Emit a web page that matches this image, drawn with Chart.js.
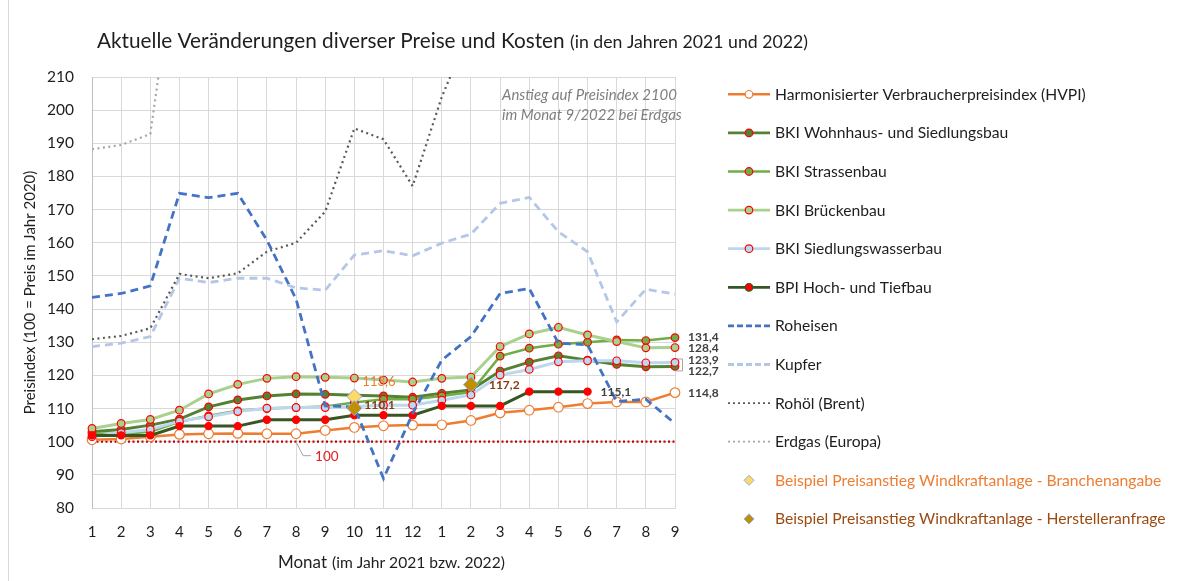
<!DOCTYPE html>
<html><head><meta charset="utf-8">
<script src="https://cdn.jsdelivr.net/npm/chart.js@4/dist/chart.umd.min.js"></script>
<style>
html,body{margin:0;padding:0;background:#fff;}
canvas{display:block;}
</style></head><body>
<canvas id="c" width="1178" height="581"></canvas>
<script>
// ---------- data ----------
const monthLabels = ['1','2','3','4','5','6','7','8','9','10','11','12','1','2','3','4','5','6','7','8','9'];
const yTicks = [80, 210, 10]; // min, max, step
const hvpi        = [100.6,100.8,101.5,102.2,102.4,102.5,102.4,102.4,103.4,104.3,104.8,105.0,105.1,106.4,108.7,109.5,110.4,111.5,112.0,112.0,114.8];
const wohnhaus    = [103.0,103.7,105.0,106.8,110.5,112.6,113.8,114.4,114.3,114.0,113.8,113.4,114.6,115.6,121.3,124.0,125.9,124.6,123.3,122.6,122.7];
const strassenbau = [102.5,102.3,103.0,106.0,107.8,109.3,110.0,110.3,110.6,111.8,112.8,112.8,113.8,115.0,125.8,128.2,129.4,130.0,130.7,130.5,131.4];
const brueckenbau = [104.0,105.5,106.7,109.5,114.4,117.3,119.1,119.6,119.4,119.2,118.6,118.0,119.1,119.5,128.7,132.5,134.5,132.2,130.2,128.3,128.4];
const siedlungswasserbau = [101.5,102.7,103.7,106.2,107.5,109.1,110.1,110.3,110.3,110.6,111.0,111.0,112.5,114.1,120.1,121.8,124.1,124.4,124.4,123.8,123.9];
const bpi         = [101.9,101.9,101.9,104.7,104.7,104.7,106.6,106.6,106.6,108.0,108.0,108.0,110.8,110.8,110.8,115.1,115.1,115.1,null,null,null];
const roheisen    = [143.5,144.7,147.0,174.9,173.6,174.9,160.8,143.0,110.8,110.5,88.9,108.5,124.6,131.7,144.7,146.2,129.7,129.2,112.1,112.8,105.5];
const kupfer      = [128.7,129.7,131.7,149.3,148.0,149.3,149.3,146.4,145.7,156.3,157.6,156.1,159.9,162.6,171.9,173.7,163.3,157.3,136.1,146.0,144.5];
const rohoel      = [130.9,131.9,134.2,150.6,149.3,150.8,157.3,160.0,169.4,194.5,191.2,177.1,204.0,225,270,250,265,280,250,235,215];
const erdgas      = [188.2,189.5,192.8,255,270,300,380,450,700,1000,900,1200,900,850,1500,1100,1000,1100,1600,2500,2100];
const basis100    = [100,100,100,100,100,100,100,100,100,100,100,100,100,100,100,100,100,100,100,100,100];
const branchenangabe    = [null,null,null,null,null,null,null,null,null,113.6,null,null,null,null,null,null,null,null,null,null,null];
const herstelleranfrage = [null,null,null,null,null,null,null,null,null,110.1,null,null,null,117.2,null,null,null,null,null,null,null];

const seriesNames = ['Harmonisierter Verbraucherpreisindex (HVPI)','BKI Wohnhaus- und Siedlungsbau','BKI Strassenbau','BKI Brückenbau','BKI Siedlungswasserbau','BPI Hoch- und Tiefbau','Roheisen','Kupfer','Rohöl (Brent)','Erdgas (Europa)','Beispiel Preisanstieg Windkraftanlage - Branchenangabe','Beispiel Preisanstieg Windkraftanlage - Herstelleranfrage'];

const FONT = 'Lato';
const TXT = '#1e1e1e';

function lineDs(label, data, color, width, extra) {
  return Object.assign({label, data, borderColor: color, backgroundColor: color, borderWidth: width,
    pointRadius: 0, tension: 0, spanGaps: false}, extra || {});
}
function markDs(label, data, color, width, fill, border, r) {
  return lineDs(label, data, color, width, {pointRadius: r, pointBackgroundColor: fill, pointBorderColor: border, pointBorderWidth: 1.2, pointStyle: 'circle'});
}

const datasets = [
  markDs(seriesNames[0], hvpi, '#ED7D31', 2.5, '#FFFFFF', '#ED7D31', 4.8),
  markDs(seriesNames[1], wohnhaus, '#548235', 3, '#548235', '#FF0000', 3.8),
  markDs(seriesNames[2], strassenbau, '#70AD47', 2.5, '#70AD47', '#FF0000', 3.8),
  markDs(seriesNames[3], brueckenbau, '#A9D18E', 3, '#A9D18E', '#FF0000', 3.8),
  markDs(seriesNames[4], siedlungswasserbau, '#BDD7EE', 3, '#BDD7EE', '#FF0000', 3.8),
  markDs(seriesNames[5], bpi, '#375623', 3, '#FF0000', '#FF0000', 3.6),
  lineDs(seriesNames[6], roheisen, '#4472C4', 2.8, {borderDash: [8, 5]}),
  lineDs(seriesNames[7], kupfer, '#B4C7E7', 2.8, {borderDash: [8, 5]}),
  lineDs(seriesNames[8], rohoel, '#595959', 2.2, {borderDash: [2, 3.5]}),
  lineDs(seriesNames[9], erdgas, '#A6A6A6', 2.2, {borderDash: [2, 3.5]}),
  lineDs('100', basis100, '#C00000', 2.2, {borderDash: [2, 2.5]}),
  {label: seriesNames[10], data: branchenangabe, showLine: false, pointStyle: 'rectRot', pointRadius: 7.5,
   pointBackgroundColor: '#FFD966', pointBorderColor: '#8FAADC', pointBorderWidth: 1, borderColor: '#FFD966', backgroundColor: '#FFD966'},
  {label: seriesNames[11], data: herstelleranfrage, showLine: false, pointStyle: 'rectRot', pointRadius: 7.5,
   pointBackgroundColor: '#BF9000', pointBorderColor: '#8FAADC', pointBorderWidth: 1, borderColor: '#BF9000', backgroundColor: '#BF9000'}
];
// later series drawn on top (like the spreadsheet original)
datasets.forEach((d, i) => { d.order = -i; });
datasets[10].order = 5; // 100-line below

function fitSize(ctx, text, style, target) {
  ctx.font = style + ' 100px ' + FONT;
  return 100 * target / ctx.measureText(text).width;
}

const overlay = {
  id: 'overlay',
  afterDraw(chart) {
    const ctx = chart.ctx;
    const xs = chart.scales.x, ys = chart.scales.y;
    ctx.save();
    // outer frame line (left)
    ctx.strokeStyle = '#D9D9D9'; ctx.lineWidth = 1;
    ctx.beginPath(); ctx.moveTo(8.5, 0); ctx.lineTo(8.5, 581); ctx.stroke();

    // title
    const t1 = 'Aktuelle Veränderungen diverser Preise und Kosten';
    const t2 = '(in den Jahren 2021 und 2022)';
    ctx.textBaseline = 'alphabetic'; ctx.textAlign = 'left'; ctx.fillStyle = TXT;
    let s1 = fitSize(ctx, t1, '', 468);
    ctx.font = s1 + 'px ' + FONT; ctx.fillText(t1, 97, 48);
    let s2 = fitSize(ctx, t2, '', 238);
    ctx.font = s2 + 'px ' + FONT; ctx.fillText(t2, 570, 48);

    // x axis title
    const a1 = 'Monat', a2 = '(im Jahr 2021 bzw. 2022)';
    let sa = fitSize(ctx, a1, '', 49);
    ctx.font = sa + 'px ' + FONT; ctx.fillText(a1, 278, 568);
    let sb = fitSize(ctx, a2, '', 173);
    ctx.font = sb + 'px ' + FONT; ctx.fillText(a2, 332, 568);

    // annotation
    ctx.fillStyle = '#7F7F7F';
    const n1 = 'Anstieg auf Preisindex 2100', n2 = 'im Monat 9/2022 bei Erdgas';
    let sn = fitSize(ctx, n2, 'italic', 180);
    ctx.font = 'italic ' + sn + 'px ' + FONT;
    ctx.textBaseline = 'middle';
    ctx.fillText(n1, 502, 95); ctx.fillText(n2, 502, 115);

    // data labels
    const px = i => xs.getPixelForValue(i);
    const py = v => ys.getPixelForValue(v);
    const last = monthLabels.length - 1;
    function lab(text, i, v, dx, dy, color, weight, size) {
      ctx.font = (weight || 'bold') + ' ' + (size || 12) + 'px ' + FONT;
      ctx.fillStyle = color; ctx.textAlign = 'left'; ctx.textBaseline = 'middle';
      ctx.fillText(text, px(i) + dx, py(v) + dy);
    }
    const fmt = v => v.toFixed(1).replace('.', ',');
    lab(fmt(strassenbau[last]), last, strassenbau[last], 13, 0, '#404040');
    lab(fmt(brueckenbau[last]), last, brueckenbau[last], 13, 1, '#404040');
    lab(fmt(siedlungswasserbau[last]), last, siedlungswasserbau[last], 13, -2.5, '#404040');
    lab(fmt(wohnhaus[last]), last, wohnhaus[last], 13, 5, '#404040');
    lab(fmt(hvpi[last]), last, hvpi[last], 13, 1, '#404040');
    lab(fmt(bpi[17]), 17, bpi[17], 13, 0, '#404040');
    lab(fmt(herstelleranfrage[13]), 13, herstelleranfrage[13], 18, 0, '#843C0C');
    lab(fmt(branchenangabe[9]), 9, branchenangabe[9], 8, -15, '#ED7D31', 'normal', 13);
    lab(fmt(herstelleranfrage[9]), 9, herstelleranfrage[9], 10, -3, '#843C0C');
    // bracket leader lines for the two close labels
    ctx.strokeStyle = '#A6A6A6'; ctx.lineWidth = 1;
    const xr = px(last);
    ctx.beginPath();
    ctx.moveTo(xr + 1, py(siedlungswasserbau[last]) - 3.5); ctx.lineTo(xr + 7.5, py(siedlungswasserbau[last]) - 3.5);
    ctx.lineTo(xr + 7.5, py(wohnhaus[last]) + 4.5); ctx.lineTo(xr + 1, py(wohnhaus[last]) + 4.5);
    ctx.stroke();
    // "100" label with leader line
    const x7 = px(7), y100 = py(100);
    ctx.beginPath(); ctx.moveTo(x7 + 0.5, y100 + 1); ctx.lineTo(x7 + 7, y100 + 14); ctx.lineTo(x7 + 15, y100 + 14); ctx.stroke();
    lab('100', 7, 100, 19, 14.5, '#E0201B', 'normal', 13.5);

    // legend: [dataset index, name index]
    const items = [[0,0],[1,1],[2,2],[3,3],[4,4],[5,5],[6,6],[7,7],[8,8],[9,9],[11,10],[12,11]];
    const lx0 = 728, lx1 = 770, lxm = 749, ltx = 775;
    const ls = fitSize(ctx, seriesNames[0], '', 311);
    items.forEach(([di, ni], k) => {
      const ds = datasets[di];
      const y = 94.3 + k * 38.6;
      ctx.save();
      if (di <= 9) {
        ctx.strokeStyle = ds.borderColor;
        ctx.lineWidth = di >= 8 ? 1.8 : Math.min(ds.borderWidth, 2.8);
        ctx.setLineDash(di >= 8 ? [2, 3] : (di >= 6 ? [6, 3] : []));
        ctx.beginPath(); ctx.moveTo(lx0, y); ctx.lineTo(lx1, y); ctx.stroke();
        ctx.setLineDash([]);
        if (ds.pointRadius > 0) {
          ctx.beginPath(); ctx.arc(lxm, y, 3.8, 0, Math.PI * 2);
          ctx.fillStyle = ds.pointBackgroundColor; ctx.fill();
          ctx.strokeStyle = di === 5 ? '#375623' : ds.pointBorderColor; ctx.lineWidth = 1.2; ctx.stroke();
        }
      } else {
        const r = 5;
        ctx.beginPath(); ctx.moveTo(lxm, y - r); ctx.lineTo(lxm + r, y); ctx.lineTo(lxm, y + r); ctx.lineTo(lxm - r, y); ctx.closePath();
        ctx.fillStyle = ds.pointBackgroundColor; ctx.fill();
        ctx.strokeStyle = ds.pointBorderColor; ctx.lineWidth = 1; ctx.stroke();
      }
      ctx.restore();
      ctx.font = ls + 'px ' + FONT; ctx.textAlign = 'left'; ctx.textBaseline = 'middle';
      ctx.fillStyle = ni === 10 ? '#ED7D31' : (ni === 11 ? '#9C4A12' : TXT);
      ctx.fillText(seriesNames[ni], ltx, y + 0.5);
    });
    ctx.restore();
  }
};

new Chart(document.getElementById('c'), {
  type: 'line',
  data: {labels: monthLabels, datasets},
  options: {
    responsive: false, animation: false, devicePixelRatio: 1,
    layout: {padding: {left: 0, top: 77, right: 503, bottom: 0}},
    plugins: {legend: {display: false}, tooltip: {enabled: false}, title: {display: false}},
    scales: {
      x: {
        type: 'category', offset: false,
        grid: {color: '#D9D9D9', drawTicks: false},
        border: {color: '#D9D9D9'},
        ticks: {color: TXT, font: {family: FONT, size: 15}, padding: 15, maxRotation: 0, autoSkip: false},
        afterFit(s) { s.height = 73; }
      },
      y: {
        min: yTicks[0], max: yTicks[1],
        grid: {color: '#D9D9D9', drawTicks: false},
        border: {color: '#BFBFBF'},
        ticks: {stepSize: yTicks[2], color: TXT, font: {family: FONT, size: 15.5}, padding: 18},
        title: {display: true, text: 'Preisindex (100 = Preis im Jahr 2020)', color: TXT,
                font: {family: FONT, size: 15}, padding: {top: 21, bottom: 0}},
        afterFit(s) { s.width = 92; }
      }
    }
  },
  plugins: [overlay]
});
</script>
</body></html>
